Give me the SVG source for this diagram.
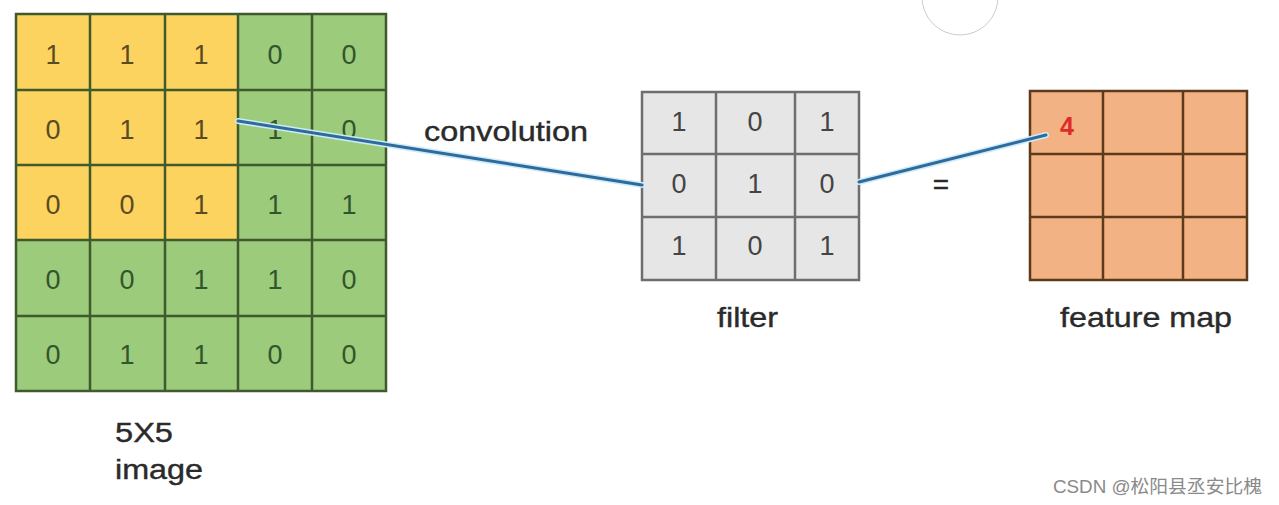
<svg xmlns="http://www.w3.org/2000/svg" width="1279" height="505" viewBox="0 0 1279 505">
<style>
.lbl{font-family:"Liberation Sans",Arial,sans-serif;fill:#2a2a2a;font-size:28px;stroke:#2a2a2a;stroke-width:0.4}
.d{font-family:"Liberation Sans",Arial,sans-serif;font-size:27px;text-anchor:middle}
.dy{fill:#5a4b22}
.dg{fill:#33552b}
.df{fill:#444}
.gl{stroke-width:2.5;fill:none}
</style>
<rect width="1279" height="505" fill="#ffffff"/>
<circle cx="960" cy="-3" r="38" fill="none" stroke="#c8ccd8" stroke-width="1"/>
<g id="image">
<rect x="16" y="14" width="370" height="377" fill="#9ccb7c"/>
<rect x="16" y="14" width="222" height="226" fill="#fcd35f"/>
<g stroke="#3f5a2c" class="gl">
<rect x="16" y="14" width="370" height="377"/>
<line x1="90" y1="14" x2="90" y2="391"/><line x1="165" y1="14" x2="165" y2="391"/><line x1="238" y1="14" x2="238" y2="391"/><line x1="312" y1="14" x2="312" y2="391"/>
<line x1="16" y1="90" x2="386" y2="90"/><line x1="16" y1="165" x2="386" y2="165"/><line x1="16" y1="240" x2="386" y2="240"/><line x1="16" y1="316" x2="386" y2="316"/>
</g>
<g class="d">
<text x="53" y="64" class="dy">1</text><text x="127" y="64" class="dy">1</text><text x="201" y="64" class="dy">1</text><text x="275" y="64" class="dg">0</text><text x="349" y="64" class="dg">0</text>
<text x="53" y="139" class="dy">0</text><text x="127" y="139" class="dy">1</text><text x="201" y="139" class="dy">1</text><text x="275" y="139" class="dg">1</text><text x="349" y="139" class="dg">0</text>
<text x="53" y="214" class="dy">0</text><text x="127" y="214" class="dy">0</text><text x="201" y="214" class="dy">1</text><text x="275" y="214" class="dg">1</text><text x="349" y="214" class="dg">1</text>
<text x="53" y="289" class="dg">0</text><text x="127" y="289" class="dg">0</text><text x="201" y="289" class="dg">1</text><text x="275" y="289" class="dg">1</text><text x="349" y="289" class="dg">0</text>
<text x="53" y="364" class="dg">0</text><text x="127" y="364" class="dg">1</text><text x="201" y="364" class="dg">1</text><text x="275" y="364" class="dg">0</text><text x="349" y="364" class="dg">0</text>
</g>
<text class="lbl" x="115" y="442" textLength="58" lengthAdjust="spacingAndGlyphs">5X5</text>
<text class="lbl" x="115" y="479" textLength="88" lengthAdjust="spacingAndGlyphs">image</text>
</g>
<g id="filter">
<rect x="642" y="92" width="217" height="188" fill="#e6e6e6"/>
<g stroke="#6e6e6e" class="gl">
<rect x="642" y="92" width="217" height="188"/>
<line x1="716" y1="92" x2="716" y2="280"/><line x1="795" y1="92" x2="795" y2="280"/>
<line x1="642" y1="154" x2="859" y2="154"/><line x1="642" y1="217" x2="859" y2="217"/>
</g>
<g class="d df">
<text x="679" y="131">1</text><text x="755" y="131">0</text><text x="827" y="131">1</text>
<text x="679" y="193">0</text><text x="755" y="193">1</text><text x="827" y="193">0</text>
<text x="679" y="255">1</text><text x="755" y="255">0</text><text x="827" y="255">1</text>
</g>
<text class="lbl" x="717" y="327" textLength="61" lengthAdjust="spacingAndGlyphs">filter</text>
</g>
<g id="featuremap">
<rect x="1030" y="91" width="217" height="189" fill="#f3b283"/>
<g stroke="#5e3a1c" class="gl">
<rect x="1030" y="91" width="217" height="189"/>
<line x1="1103" y1="91" x2="1103" y2="280"/><line x1="1183" y1="91" x2="1183" y2="280"/>
<line x1="1030" y1="154" x2="1247" y2="154"/><line x1="1030" y1="217" x2="1247" y2="217"/>
</g>
<text x="1067" y="135" font-family="Liberation Sans,Arial,sans-serif" font-size="25" font-weight="bold" fill="#e02a2a" text-anchor="middle">4</text>
<text class="lbl" x="1060" y="327" textLength="172" lengthAdjust="spacingAndGlyphs">feature map</text>
</g>
<g id="connectors" fill="none" stroke-linecap="round">
<line x1="238" y1="121" x2="642" y2="185" stroke="#cfeaf8" stroke-width="6"/>
<line x1="238" y1="121" x2="642" y2="185" stroke="#2c6b9c" stroke-width="3"/>
<line x1="859" y1="182" x2="1046" y2="135" stroke="#cfeaf8" stroke-width="6"/>
<line x1="859" y1="182" x2="1046" y2="135" stroke="#2c6b9c" stroke-width="3"/>
</g>
<text class="lbl" x="424" y="141" textLength="164" lengthAdjust="spacingAndGlyphs">convolution</text>
<text class="lbl" x="941" y="194" font-size="24" text-anchor="middle">=</text>
<text x="1053" y="493" font-family="Liberation Sans,'Noto Sans CJK SC',sans-serif" font-size="18" fill="#8a8a8a" textLength="209" lengthAdjust="spacingAndGlyphs">CSDN @松阳县丞安比槐</text>
</svg>
